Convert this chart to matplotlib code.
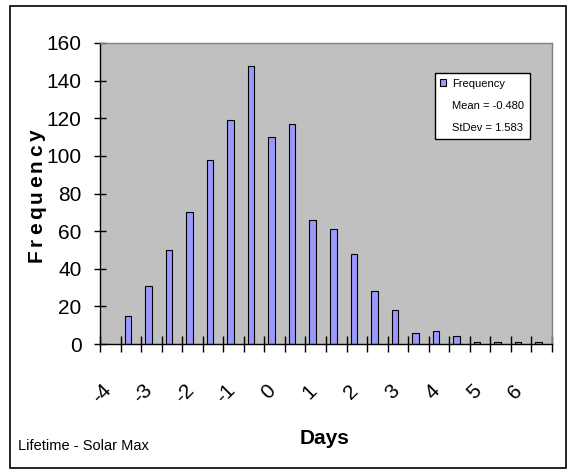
import matplotlib
matplotlib.use("Agg")
import matplotlib.pyplot as plt
from matplotlib.patches import Patch, Rectangle
from matplotlib.lines import Line2D
from matplotlib.transforms import ScaledTranslation
import numpy as np

# Histogram bins (days) and counts
bins = [-4.0, -3.5, -3.0, -2.5, -2.0, -1.5, -1.0, -0.5, 0.0, 0.5, 1.0,
        1.5, 2.0, 2.5, 3.0, 3.5, 4.0, 4.5, 5.0, 5.5, 6.0, 6.5]
frequency = [0, 15, 31, 50, 70, 98, 119, 148, 110, 117, 66,
             61, 48, 28, 18, 6, 7, 4, 1, 1, 1, 1]

# Category labels shown on the x axis
label_values = [-4, -3, -2, -1, 0, 1, 2, 3, 4, 5, 6]
tick_labels = ["-4", "-3", "-2", "-1", "0", "1", "2", "3", "4", "5", "6"]

y_ticks = [0, 20, 40, 60, 80, 100, 120, 140, 160]

legend_labels = ["Frequency", "Mean = -0.480", "StDev = 1.583"]

W, H = 571, 471
NARROW = ["Liberation Sans Narrow", "Liberation Sans", "DejaVu Sans"]
REGULAR = ["Liberation Sans", "DejaVu Sans"]
plt.rcParams["font.family"] = NARROW

fig = plt.figure(figsize=(W / 100, H / 100), dpi=100)
fig.patch.set_facecolor("white")

ax = fig.add_axes([100 / W, 1 - 344 / H, 452 / W, 301 / H])
ax.set_facecolor("#C0C0C0")

x = np.arange(len(bins))
ax.bar(x - 0.145, frequency, width=0.32, color="#9999FF",
       edgecolor="black", linewidth=0.8, zorder=2)

ax.set_xlim(-0.5, len(bins) - 0.5)
ax.set_ylim(0, 160)

# y axis
ax.set_yticks(y_ticks)
ax.tick_params(axis="y", direction="inout", length=8.6, width=1,
               pad=8.9, labelsize=15, colors="black")

# x axis: boundary ticks (major) and category labels (minor)
ax.set_xticks(np.arange(len(bins) + 1) - 0.5)
ax.tick_params(axis="x", which="major", direction="inout", length=11.5,
               width=1, labelbottom=False)
label_pos = [bins.index(float(v)) for v in label_values]
ax.set_xticks(label_pos, minor=True)
ax.set_xticklabels(tick_labels, minor=True, rotation=45, ha="right",
                   va="top", fontsize=15)
ax.tick_params(axis="x", which="minor", length=0, pad=26.5)
shift = ScaledTranslation(5 / 100, 0, fig.dpi_scale_trans)
for tick in ax.xaxis.get_minor_ticks():
    tick.label1.set_transform(tick.label1.get_transform() + shift)

for side in ("left", "bottom"):
    ax.spines[side].set_color("black")
    ax.spines[side].set_linewidth(1)
for side in ("top", "right"):
    ax.spines[side].set_color("#808080")
    ax.spines[side].set_linewidth(1)

# Legend
handles = [Patch(facecolor="#9999FF", edgecolor="black", linewidth=0.8),
           Line2D([], [], linestyle="none"),
           Line2D([], [], linestyle="none")]
leg = ax.legend(handles, legend_labels, loc="upper right",
                bbox_to_anchor=(530 / W, 1 - 73 / H),
                bbox_transform=fig.transFigure, fontsize=8,
                frameon=True, fancybox=False, framealpha=1,
                edgecolor="black", facecolor="white",
                borderpad=0.5, handlelength=0.55, handleheight=0.55,
                handletextpad=0.55, labelspacing=1.1, borderaxespad=0)
leg.get_frame().set_linewidth(1)


def spaced_vertical_text(text, x_px, y_bottom_px, total_px, **kw):
    """Draw text rotated 90 degrees with extra letter spacing."""
    renderer = fig.canvas.get_renderer()
    prefix = [0.0]
    for i in range(1, len(text)):
        t = fig.text(0, 0, text[:i], **kw)
        prefix.append(t.get_window_extent(renderer).width)
        t.remove()
    t = fig.text(0, 0, text, **kw)
    natural = t.get_window_extent(renderer).width
    t.remove()
    extra = (total_px - natural) / (len(text) - 1)
    for i, ch in enumerate(text):
        y = (H - y_bottom_px) + prefix[i] + i * extra
        fig.text(x_px / W, y / H, ch, rotation=90, rotation_mode="anchor",
                 ha="left", va="baseline", **kw)


spaced_vertical_text("Frequency", 42, 262, 133, fontsize=15,
                     fontweight="bold", family=REGULAR)

fig.text(325 / W, 1 - 444 / H, "Days", ha="center", va="baseline",
         fontsize=15, fontweight="bold")
fig.text(18 / W, 1 - 450 / H, "Lifetime - Solar Max", ha="left",
         va="baseline", fontsize=10.5)

# Outer chart border
fig.add_artist(Rectangle((10 / W, 1 - 468 / H), 556 / W, 462 / H,
                         transform=fig.transFigure, fill=False,
                         edgecolor="black", linewidth=1.2))

fig.savefig("out.png", dpi=100)
